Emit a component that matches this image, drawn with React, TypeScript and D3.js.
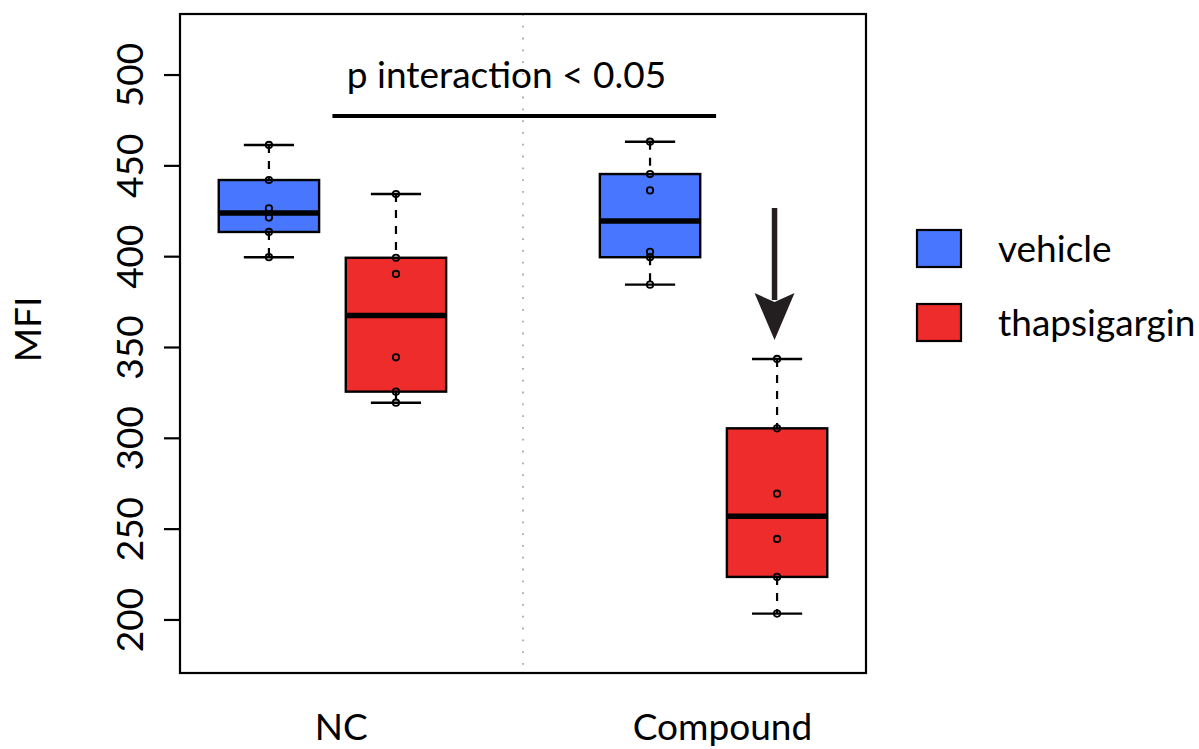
import React from "react";
import * as d3 from "d3";

const groups = ["NC", "Compound"];
const groupLabelPos = [1.57, 4.57];
const treatments = ["vehicle", "thapsigargin"];
const treatmentColors = ["#4876FF", "#EE2C2C"];

const ncVehicle = [461.5, 442.2, 426.6, 421.5, 413.6, 399.7];
const ncThapsigargin = [434.5, 399.4, 390.5, 344.6, 325.7, 319.6];
const compoundVehicle = [463.3, 445.5, 436.5, 402.7, 399.7, 384.6];
const compoundThapsigargin = [343.7, 305.5, 269.5, 244.6, 223.7, 203.5];

const boxPositions = [1, 2, 4, 5];
const boxTreatment = [0, 1, 0, 1];
const yTicks = [200, 250, 300, 350, 400, 450, 500];

const annotationText = "p interaction < 0.05";
const annotationLine = [1.5, 4.52, 477.4];
const annotationTextPos = [2.87, 492.8];
const arrowData = [4.98, 426.8, 354.1];

const W = 1199;
const H = 749;
const FONT = "Lato, 'Open Sans', sans-serif";

function fivenum(values: number[]) {
  const x = [...values].sort((a, b) => a - b);
  const n = x.length;
  const n4 = Math.floor((n + 3) / 2) / 2;
  const d = [1, n4, (n + 1) / 2, n + 1 - n4, n];
  return d.map((v) => 0.5 * (x[Math.floor(v) - 1] + x[Math.ceil(v) - 1]));
}

export default function App() {
  const series = [ncVehicle, ncThapsigargin, compoundVehicle, compoundThapsigargin];
  const x = d3.scaleLinear().domain([0.3, 5.7]).range([180, 866]);
  const y = d3.scaleLinear().domain([170.8, 533.6]).range([673, 14]);
  const boxW = x(0.79) - x(0);
  const capW = boxW / 2;

  const boxes = series.map((vals, i) => {
    const f = fivenum(vals);
    const iqr = f[3] - f[1];
    const lo = d3.min(vals.filter((v) => v >= f[1] - 1.5 * iqr))!;
    const hi = d3.max(vals.filter((v) => v <= f[3] + 1.5 * iqr))!;
    return { pos: boxPositions[i], color: treatmentColors[boxTreatment[i]], f, lo, hi, vals };
  });

  const ax = x(arrowData[0]);
  const ayTop = y(arrowData[1]);
  const ayTip = y(arrowData[2]);

  return (
    <svg width={W} height={H} style={{ position: "absolute", left: 0, top: 0, background: "#fff" }}>
      <rect x={0} y={0} width={W} height={H} fill="#fff" />
      {/* divider */}
      <line x1={x(3)} x2={x(3)} y1={y.range()[1]} y2={y.range()[0]} stroke="#aaaaaa" strokeWidth={1.8} strokeDasharray="1.8 10" />
      {boxes.map((b, i) => {
        const cx = x(b.pos);
        return (
          <g key={i}>
            <line x1={cx} x2={cx} y1={y(b.hi)} y2={y(b.f[3])} stroke="#000" strokeWidth={2.2} strokeDasharray="8 8" />
            <line x1={cx} x2={cx} y1={y(b.f[1])} y2={y(b.lo)} stroke="#000" strokeWidth={2.2} strokeDasharray="8 8" />
            <line x1={cx - capW / 2} x2={cx + capW / 2} y1={y(b.hi)} y2={y(b.hi)} stroke="#000" strokeWidth={2.4} />
            <line x1={cx - capW / 2} x2={cx + capW / 2} y1={y(b.lo)} y2={y(b.lo)} stroke="#000" strokeWidth={2.4} />
            <rect x={cx - boxW / 2} y={y(b.f[3])} width={boxW} height={y(b.f[1]) - y(b.f[3])} fill={b.color} stroke="#000" strokeWidth={2.4} />
            <line x1={cx - boxW / 2} x2={cx + boxW / 2} y1={y(b.f[2])} y2={y(b.f[2])} stroke="#000" strokeWidth={5.5} />
            {b.vals.map((v, j) => (
              <circle key={j} cx={cx} cy={y(v)} r={3.2} fill="none" stroke="#000" strokeWidth={1.8} />
            ))}
          </g>
        );
      })}
      {/* frame */}
      <rect x={180} y={14} width={686} height={659} fill="none" stroke="#000" strokeWidth={2.2} />
      {/* y axis */}
      {yTicks.map((t) => (
        <g key={t}>
          <line x1={164} x2={180} y1={y(t)} y2={y(t)} stroke="#000" strokeWidth={2.2} />
          <text transform={`translate(143,${y(t)}) rotate(-90)`} textAnchor="middle" fontFamily={FONT} fontSize={37} fill="#000">
            {t}
          </text>
        </g>
      ))}
      <text transform={`translate(41,329.5) rotate(-90)`} textAnchor="middle" fontFamily={FONT} fontSize={37} fill="#000">
        MFI
      </text>
      {groups.map((g, i) => (
        <text key={g} x={x(groupLabelPos[i])} y={740} textAnchor="middle" fontFamily={FONT} fontSize={37} fill="#000">
          {g}
        </text>
      ))}
      {/* annotation */}
      <text x={x(annotationTextPos[0])} y={y(annotationTextPos[1])} textAnchor="middle" fontFamily={FONT} fontSize={37} fill="#000">
        {annotationText}
      </text>
      <line x1={x(annotationLine[0])} x2={x(annotationLine[1])} y1={y(annotationLine[2])} y2={y(annotationLine[2])} stroke="#000" strokeWidth={4} />
      {/* arrow */}
      <line x1={ax} x2={ax} y1={ayTop} y2={ayTip - 40} stroke="#231f20" strokeWidth={5.5} />
      <path d={`M${ax},${ayTip} L${ax - 20},${ayTip - 47} L${ax},${ayTip - 38} L${ax + 20},${ayTip - 47} Z`} fill="#231f20" />
      {/* legend */}
      {treatments.map((t, i) => (
        <g key={t}>
          <rect x={917} y={230 + i * 74} width={44} height={37} fill={treatmentColors[i]} stroke="#000" strokeWidth={2.2} />
          <text x={998} y={262 + i * 74} fontFamily={FONT} fontSize={37} fill="#000">
            {t}
          </text>
        </g>
      ))}
    </svg>
  );
}
